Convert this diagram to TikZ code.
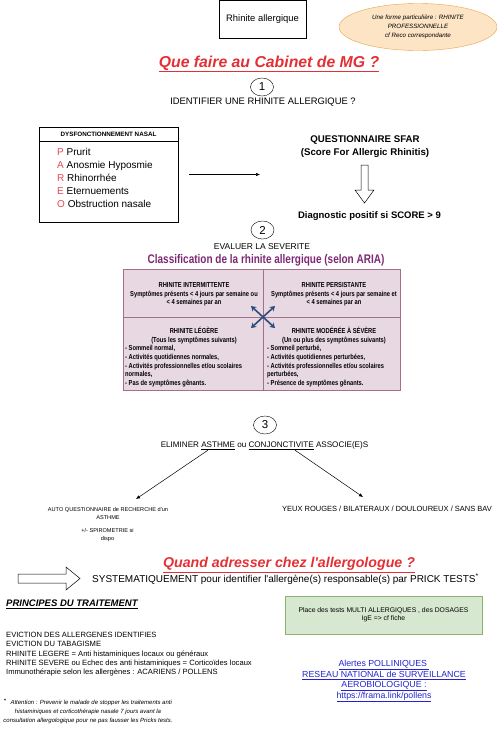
\documentclass[tikz,border=0pt]{standalone}
\usepackage{fontspec}
\setmainfont{Liberation Sans}
\newfontfamily\ariafont[FakeStretch=0.8]{Liberation Sans}
\usetikzlibrary{arrows.meta, positioning, shapes.geometric}

\definecolor{titlered}{RGB}{228,48,52}
\definecolor{pareored}{RGB}{232,70,80}
\definecolor{profline}{RGB}{228,165,80}
\definecolor{proffill}{RGB}{252,228,196}
\definecolor{ariaframe}{RGB}{165,110,140}
\definecolor{ariafill}{RGB}{232,216,226}
\definecolor{ariatitle}{RGB}{125,40,115}
\definecolor{crossblue}{RGB}{45,75,125}
\definecolor{notefill}{RGB}{214,232,208}
\definecolor{noteline}{RGB}{140,180,110}
\definecolor{linkblue}{RGB}{35,35,205}

\begin{document}
\begin{tikzpicture}[
			x=1pt, y=-1pt,
			box/.style={
				draw,
				inner sep=0pt
			},
			txt/.style={
				inner sep=0pt,
				align=center
			},
			title/.style={
				txt,
				text=titlered,
				font=\fontsize{#1}{18}\selectfont\bfseries\itshape
			},
			num/.style={
				ellipse,
				draw,
				minimum width=23pt,
				minimum height=18pt,
				inner sep=0pt,
				font=\fontsize{11.5}{12}\selectfont
			},
			cell/.style={
				txt,
				font=\ariafont\bfseries\fontsize{7.2}{8.6}\selectfont
			},
			arrow/.style={-{Latex[length=4pt, width=3.5pt]}, line width=0.5pt},
			hollow/.style={draw, line width=0.5pt, fill=white}
			]
			
			\useasboundingbox (0,0) rectangle (500,732);
			
			% top
			\node[box, minimum width=87pt, minimum height=38pt,
			font=\fontsize{9.4}{11}\selectfont] (rhinite) at (262.5,19.5) {Rhinite allergique};
			
			\node[ellipse, draw=profline, fill=proffill, minimum width=158pt, minimum height=47pt,
			txt, font=\fontsize{6.2}{8.7}\selectfont\itshape] (prof) at (418,27)
			{Une forme particulière : RHINITE\\PROFESSIONNELLE\\cf Reco correspondante};
			
			\node[title=15.8] (cabinet) at (269,64) {\underline{Que faire au Cabinet de MG ?}};
			
			% step 1
			\node[num] (n1) at (262,87) {1};
			\node[txt, font=\fontsize{9.4}{11}\selectfont] (ident) at (263,102)
			{IDENTIFIER UNE RHINITE ALLERGIQUE ?};
			
			\node[box, minimum width=139pt, minimum height=95pt] (pareo) at (108.5,174.5) {};
			\draw ([yshift=-14pt]pareo.north west) -- ([yshift=-14pt]pareo.north east);
			\node[txt, font=\fontsize{6.3}{7}\selectfont\bfseries] (pareohead) at (108.5,134)
			{DYSFONCTIONNEMENT NASAL};
			\node[txt, align=left, anchor=north west, font=\fontsize{10}{12.8}\selectfont] (pareolist) at (57,148.5)
			{\textcolor{pareored}{P} Prurit\\
				\textcolor{pareored}{A} Anosmie Hyposmie\\
				\textcolor{pareored}{R} Rhinorrhée\\
				\textcolor{pareored}{E} Eternuements\\
				\textcolor{pareored}{O} Obstruction nasale};
			
			\coordinate (sfarin) at (260,174.5);
			\draw[arrow] ([xshift=11pt]pareo.east) -- (sfarin);
			
			\node[txt, font=\fontsize{9.7}{12.5}\selectfont\bfseries] (sfar) at (365,146.5)
			{QUESTIONNAIRE SFAR\\(Score For Allergic Rhinitis)};
			
			\draw[hollow] (361,165) -- (368,165) -- (368,190) -- (374,190) -- (364.5,203)
			-- (355,190) -- (361,190) -- cycle;
			
			\node[txt, font=\fontsize{9.5}{10}\selectfont\bfseries] (diag) at (369.5,216)
			{Diagnostic positif si SCORE > 9};
			
			% step 2
			\node[num] (n2) at (262.5,230) {2};
			\node[txt, font=\fontsize{8.5}{10}\selectfont] (eval) at (262,247) {EVALUER LA SEVERITE};
			\node[txt, text=ariatitle, font=\ariafont\bfseries\fontsize{12.5}{13}\selectfont] (aria) at (266,260)
			{Classification de la rhinite allergique (selon ARIA)};
			
			\node[box, draw=ariaframe, fill=ariafill, minimum width=277pt, minimum height=121pt] (table) at (262,329.5) {};
			\draw[ariaframe] (table.west |- 0,317) -- (table.east |- 0,317);
			\draw[ariaframe] (table.north -| 263,0) -- (table.south -| 263,0);
			
			\node[cell] (inter) at (194,294.5)
			{RHINITE INTERMITTENTE\\Symptômes présents < 4 jours par semaine ou\\< 4 semaines par an};
			\node[cell] (persist) at (334,294.5)
			{RHINITE PERSISTANTE\\Symptômes présents < 4 jours par semaine et\\< 4 semaines par an};
			\node[cell] (legere) at (194,335.5)
			{RHINITE LÉGÈRE\\(Tous les symptômes suivants)};
			\node[cell, align=left, anchor=north west] (legerelist) at (125,345.5)
			{- Sommeil normal,\\- Activités quotidiennes normales,\\- Activités professionnelles et/ou scolaires\\normales,\\- Pas de symptômes gênants.};
			\node[cell] (severe) at (334,335.5)
			{RHINITE MODÉRÉE À SÉVÈRE\\(Un ou plus des symptômes suivants)};
			\node[cell, align=left, anchor=north west] (severelist) at (267,345.5)
			{- Sommeil perturbé,\\- Activités quotidiennes perturbées,\\- Activités professionnelles et/ou scolaires\\perturbées,\\- Présence de symptômes gênants.};
			
			\coordinate (mid) at (263,317);
			\draw[crossblue, line width=1.6pt, {Stealth[length=5pt, width=6pt]}-{Stealth[length=5pt, width=6pt]}]
			([shift={(-12,-11)}]mid) -- ([shift={(12,11)}]mid);
			\draw[crossblue, line width=1.6pt, {Stealth[length=5pt, width=6pt]}-{Stealth[length=5pt, width=6pt]}]
			([shift={(-12,11)}]mid) -- ([shift={(12,-11)}]mid);
			
			% step 3
			\node[num] (n3) at (265,425) {3};
			\node[txt, font=\fontsize{8.1}{10}\selectfont] (elim) at (264.5,446)
			{ELIMINER \underline{ASTHME} ou \underline{CONJONCTIVITE} ASSOCIE(E)S};
			
			\node[txt, font=\fontsize{5.6}{7.8}\selectfont] (asthme) at (108,513.5)
			{AUTO QUESTIONNAIRE de RECHERCHE d\textquotesingle un\\ASTHME};
			\node[txt, font=\fontsize{5.6}{7.8}\selectfont] (spiro) at (107.5,535)
			{+/- SPIROMETRIE si\\dispo};
			\node[txt, font=\fontsize{7.5}{8}\selectfont] (yeux) at (387,509)
			{YEUX ROUGES / BILATERAUX / DOULOUREUX / SANS BAV};
			
			\coordinate (asthmein) at (136,499);
			\coordinate (yeuxin) at (363,497);
			\draw[arrow] (elim.south -| 208,0) -- (asthmein);
			\draw[arrow] (elim.south -| 295,0) -- (yeuxin);
			
			% allergologue
			\node[title=14.2] (allergo) at (289,565)
			{\underline{Quand adresser chez l\textquotesingle allergologue ?}};
			
			\draw[hollow] (18,574) -- (66,574) -- (66,567) -- (80,578.5) -- (66,590) -- (66,583)
			-- (18,583) -- cycle;
			\node[txt, anchor=west, font=\fontsize{10}{11}\selectfont] (prick) at (92,579)
			{SYSTEMATIQUEMENT pour identifier l\textquotesingle allergène(s) responsable(s) par PRICK TESTS\textsuperscript{*}};
			
			% traitement
			\node[txt, anchor=west, font=\fontsize{9.5}{10}\selectfont\bfseries\itshape] (principes) at (6,604)
			{\underline{PRINCIPES DU TRAITEMENT}};
			\node[txt, align=left, anchor=north west, font=\fontsize{7.6}{9.3}\selectfont] (traitement) at (6,632)
			{EVICTION DES ALLERGENES IDENTIFIES\\
				EVICTION DU TABAGISME\\
				RHINITE LEGERE = Anti histaminiques locaux ou généraux\\
				RHINITE SEVERE ou Echec des anti histaminiques = Corticoïdes locaux\\
				Immunothérapie selon les allergènes : ACARIENS / POLLENS};
			
			\node[box, draw=noteline, fill=notefill, minimum width=197pt, minimum height=38pt,
			txt, font=\fontsize{6.8}{8}\selectfont] (multi) at (383.5,615)
			{Place des tests MULTI ALLERGIQUES , des DOSAGES\\IgE => cf fiche};
			
			\node[txt, text=linkblue, font=\fontsize{8.8}{9.7}\selectfont] (pollens) at (384,681)
			{\underline{Alertes POLLINIQUES\ }\\\underline{RESEAU NATIONAL de SURVEILLANCE}\\
				\underline{AEROBIOLOGIQUE :}\\\underline{https://frama.link/pollens}};
			
			\node[txt, font=\fontsize{6}{8.8}\selectfont\itshape] (note) at (88,711)
			{\textsuperscript{\upshape\bfseries *}\hspace{4pt}Attention : Prevenir le malade de stopper les traitements anti\\
				histaminiques et corticothérapie nasale 7 jours avant la\\
				consultation allergologique pour ne pas fausser les Pricks tests.};
			
		\end{tikzpicture}
\end{document}
